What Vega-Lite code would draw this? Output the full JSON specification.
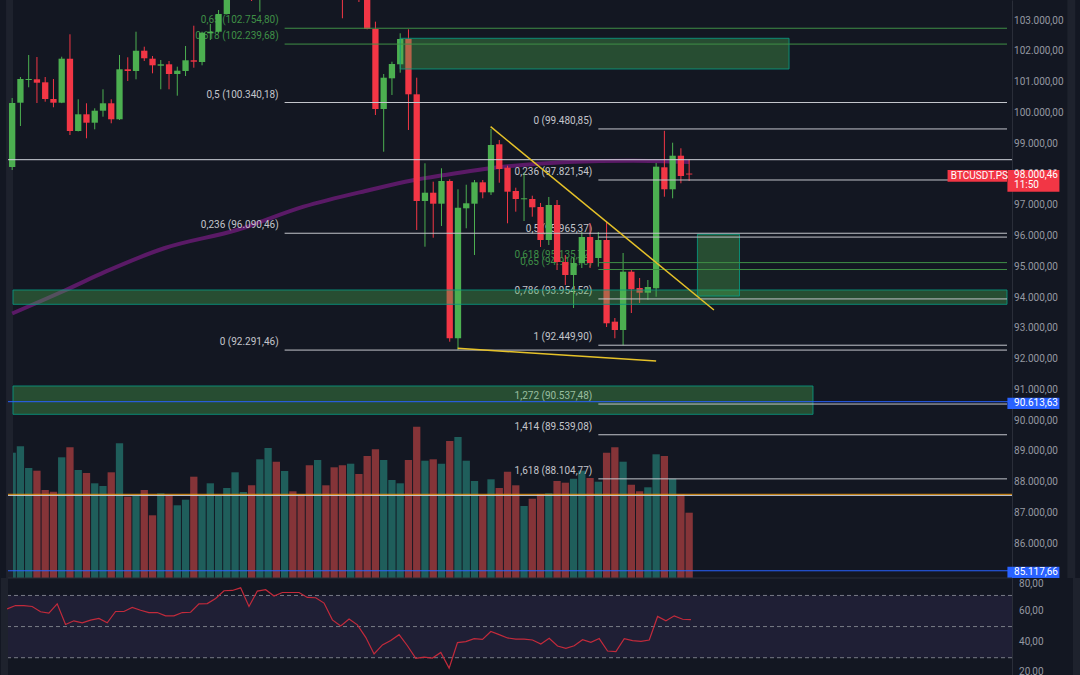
{
"$schema": "https://vega.github.io/schema/vega-lite/v6.json",
"background": "#131722",
"padding": 0,
"bounds": "flush",
"spacing": 0,
"config": {
 "locale": {"number": {"decimal": ",", "thousands": ".", "grouping": [3], "currency": ["", ""]}},
 "view": {"stroke": null, "fill": "#131722"},
 "axis": {"grid": false, "ticks": false, "domain": true, "domainColor": "#2a2e39", "labels": false, "title": null},
 "text": {"font": "Roboto", "fontSize": 10}
},
"datasets": {
 "bars": [
  {"i":0,"o":98244,"h":100487,"l":98146,"c":100324,"v":6265,"r":61.4},
  {"i":1,"o":100334,"h":101170,"l":99577,"c":101105,"v":6585,"r":63.5},
  {"i":2,"o":101072,"h":101885,"l":100835,"c":101105,"v":5500,"r":63.5},
  {"i":3,"o":101095,"h":101820,"l":100324,"c":100984,"v":5365,"r":62.9},
  {"i":4,"o":100997,"h":101170,"l":100367,"c":100455,"v":4400,"r":59.5},
  {"i":5,"o":100455,"h":101105,"l":100185,"c":100334,"v":4315,"r":58.6},
  {"i":6,"o":100334,"h":101830,"l":100320,"c":101765,"v":6035,"r":64.6},
  {"i":7,"o":101765,"h":102558,"l":99284,"c":99414,"v":6535,"r":51.3},
  {"i":8,"o":99414,"h":100445,"l":99400,"c":99957,"v":5400,"r":53.7},
  {"i":9,"o":99957,"h":100315,"l":99177,"c":99684,"v":5250,"r":52.4},
  {"i":10,"o":99684,"h":100152,"l":99469,"c":100074,"v":4735,"r":54.1},
  {"i":11,"o":100074,"h":100770,"l":99879,"c":100315,"v":4600,"r":55.2},
  {"i":12,"o":100315,"h":100445,"l":99665,"c":99795,"v":5285,"r":52.4},
  {"i":13,"o":99795,"h":101885,"l":99772,"c":101420,"v":6735,"r":59.7},
  {"i":14,"o":101420,"h":101810,"l":101040,"c":101365,"v":4065,"r":59.7},
  {"i":15,"o":101365,"h":102642,"l":101095,"c":102025,"v":4100,"r":62.3},
  {"i":16,"o":102025,"h":102155,"l":101690,"c":101778,"v":4400,"r":60.5},
  {"i":17,"o":101765,"h":101852,"l":101290,"c":101550,"v":3135,"r":59.0},
  {"i":18,"o":101537,"h":101722,"l":100770,"c":101583,"v":4235,"r":59.0},
  {"i":19,"o":101583,"h":101690,"l":100770,"c":101267,"v":4135,"r":56.9},
  {"i":20,"o":101267,"h":101505,"l":100562,"c":101375,"v":3635,"r":56.9},
  {"i":21,"o":101365,"h":102178,"l":101202,"c":101713,"v":3915,"r":59.0},
  {"i":22,"o":101713,"h":102837,"l":101472,"c":101667,"v":5065,"r":59.2},
  {"i":23,"o":101657,"h":102642,"l":101550,"c":102610,"v":4100,"r":64.6},
  {"i":24,"o":102590,"h":102893,"l":102373,"c":102642,"v":4735,"r":64.8},
  {"i":25,"o":102642,"h":103348,"l":102610,"c":103218,"v":4100,"r":68.1},
  {"i":26,"o":103218,"h":103933,"l":103200,"c":103836,"v":4500,"r":73.0},
  {"i":27,"o":103836,"h":104650,"l":103700,"c":104400,"v":5285,"r":73.2},
  {"i":28,"o":104400,"h":105200,"l":104100,"c":104900,"v":4300,"r":74.9},
  {"i":29,"o":104900,"h":105100,"l":103640,"c":104000,"v":4635,"r":62.9},
  {"i":30,"o":104000,"h":105600,"l":103293,"c":105300,"v":5935,"r":72.8},
  {"i":31,"o":105300,"h":106900,"l":105000,"c":106600,"v":6500,"r":73.7},
  {"i":32,"o":106600,"h":107100,"l":105700,"c":106000,"v":5815,"r":69.6},
  {"i":33,"o":106000,"h":107700,"l":105800,"c":107300,"v":5350,"r":71.9},
  {"i":34,"o":107300,"h":108389,"l":106500,"c":106900,"v":4335,"r":71.9},
  {"i":35,"o":106900,"h":107400,"l":105900,"c":106200,"v":4200,"r":71.9},
  {"i":36,"o":106200,"h":106500,"l":104900,"c":105300,"v":5635,"r":68.7},
  {"i":37,"o":105300,"h":106300,"l":105000,"c":105900,"v":5900,"r":68.5},
  {"i":38,"o":105900,"h":106100,"l":104700,"c":105200,"v":4635,"r":65.1},
  {"i":39,"o":105200,"h":105500,"l":104100,"c":104500,"v":5535,"r":54.3},
  {"i":40,"o":104500,"h":104900,"l":103078,"c":104000,"v":5635,"r":50.4},
  {"i":41,"o":104000,"h":104900,"l":103800,"c":104600,"v":5715,"r":54.9},
  {"i":42,"o":104600,"h":104800,"l":103608,"c":103900,"v":5200,"r":51.1},
  {"i":43,"o":103900,"h":104200,"l":102720,"c":102730,"v":6100,"r":43.1},
  {"i":44,"o":102730,"h":102968,"l":99934,"c":100129,"v":6435,"r":32.4},
  {"i":45,"o":100129,"h":101267,"l":98741,"c":101147,"v":5900,"r":38.2},
  {"i":46,"o":101127,"h":101667,"l":100585,"c":101592,"v":4900,"r":41.0},
  {"i":47,"o":101583,"h":102590,"l":101310,"c":102405,"v":4735,"r":44.8},
  {"i":48,"o":102405,"h":102720,"l":99447,"c":100607,"v":5900,"r":37.7},
  {"i":49,"o":100607,"h":101147,"l":96196,"c":97138,"v":7565,"r":29.6},
  {"i":50,"o":97138,"h":98364,"l":95653,"c":97408,"v":5865,"r":30.4},
  {"i":51,"o":97408,"h":97766,"l":95945,"c":97051,"v":5935,"r":29.8},
  {"i":52,"o":97051,"h":98202,"l":96326,"c":97789,"v":5715,"r":33.4},
  {"i":53,"o":97789,"h":97844,"l":92564,"c":92675,"v":6850,"r":23.3},
  {"i":54,"o":92675,"h":97519,"l":92291,"c":96921,"v":7050,"r":39.7},
  {"i":55,"o":96901,"h":97668,"l":96251,"c":97064,"v":5865,"r":40.3},
  {"i":56,"o":97051,"h":97821,"l":95383,"c":97746,"v":4850,"r":42.3},
  {"i":57,"o":97746,"h":97821,"l":97226,"c":97421,"v":4150,"r":41.8},
  {"i":58,"o":97421,"h":99481,"l":97334,"c":98959,"v":4935,"r":46.8},
  {"i":59,"o":98982,"h":99122,"l":97733,"c":98179,"v":4500,"r":44.8},
  {"i":60,"o":98221,"h":98286,"l":96414,"c":97441,"v":5315,"r":42.7},
  {"i":61,"o":97464,"h":97571,"l":96791,"c":97204,"v":4635,"r":42.0},
  {"i":62,"o":97194,"h":98058,"l":96488,"c":97226,"v":3600,"r":42.0},
  {"i":63,"o":97204,"h":97311,"l":96628,"c":96934,"v":3965,"r":41.4},
  {"i":64,"o":96943,"h":97074,"l":95643,"c":95871,"v":4200,"r":38.8},
  {"i":65,"o":95871,"h":97269,"l":95708,"c":97008,"v":4235,"r":42.5},
  {"i":66,"o":97008,"h":97171,"l":94895,"c":95155,"v":4850,"r":37.5},
  {"i":67,"o":95155,"h":95383,"l":94408,"c":94733,"v":4765,"r":36.0},
  {"i":68,"o":94733,"h":95285,"l":93660,"c":95123,"v":4965,"r":37.7},
  {"i":69,"o":95123,"h":96131,"l":94960,"c":95968,"v":5365,"r":41.6},
  {"i":70,"o":95968,"h":96414,"l":94960,"c":95123,"v":5000,"r":39.9},
  {"i":71,"o":95285,"h":96131,"l":95003,"c":95871,"v":4815,"r":42.3},
  {"i":72,"o":95871,"h":96465,"l":93042,"c":93163,"v":6265,"r":34.3},
  {"i":73,"o":93215,"h":93335,"l":92675,"c":92945,"v":6535,"r":33.9},
  {"i":74,"o":92945,"h":95448,"l":92450,"c":94840,"v":5815,"r":42.3},
  {"i":75,"o":94840,"h":94895,"l":93497,"c":94268,"v":4665,"r":41.0},
  {"i":76,"o":94310,"h":94635,"l":93822,"c":94157,"v":4335,"r":40.5},
  {"i":77,"o":94157,"h":94570,"l":93920,"c":94343,"v":4535,"r":41.4},
  {"i":78,"o":94300,"h":98374,"l":94027,"c":98254,"v":6185,"r":56.5},
  {"i":79,"o":98234,"h":99420,"l":97278,"c":97519,"v":6100,"r":53.7},
  {"i":80,"o":97519,"h":99034,"l":97226,"c":98611,"v":4965,"r":56.9},
  {"i":81,"o":98611,"h":98852,"l":97714,"c":97951,"v":4185,"r":54.7},
  {"i":82,"o":98030,"h":98494,"l":97789,"c":98000.46,"v":3265,"r":54.5}
 ],
 "ma": [
  {"i":0,"m":93481},{"i":6.5,"m":94245},{"i":11.3,"m":94840},{"i":18.5,"m":95610},
  {"i":27.2,"m":96196},{"i":35.3,"m":96953},{"i":43.3,"m":97496},{"i":48.4,"m":97805},
  {"i":52.4,"m":97984},{"i":59.2,"m":98244},{"i":67.3,"m":98406},{"i":75.2,"m":98449},{"i":82,"m":98406}
 ],
 "fib": [
  {"s":33,"p":102754.80,"k":"g","t":"0,65 (102.754,80)"},
  {"s":33,"p":102239.68,"k":"g","t":"0,618 (102.239,68)"},
  {"s":33,"p":100340.18,"k":"w","t":"0,5 (100.340,18)"},
  {"s":33,"p":96090.46,"k":"w","t":"0,236 (96.090,46)"},
  {"s":33,"p":92291.46,"k":"w","t":"0 (92.291,46)"},
  {"s":71,"p":99480.85,"k":"w","t":"0 (99.480,85)"},
  {"s":71,"p":97821.54,"k":"w","t":"0,236 (97.821,54)"},
  {"s":71,"p":95965.37,"k":"w","t":"0,5 (95.965,37)"},
  {"s":71,"p":95135.72,"k":"g","t":"0,618 (95.135,72)"},
  {"s":71,"p":94910.73,"k":"g","t":"0,65 (94.910,73)"},
  {"s":71,"p":93954.52,"k":"w","t":"0,786 (93.954,52)"},
  {"s":71,"p":92449.90,"k":"w","t":"1 (92.449,90)"},
  {"s":71,"p":90537.48,"k":"w","t":"1,272 (90.537,48)"},
  {"s":71,"p":89539.08,"k":"w","t":"1,414 (89.539,08)"},
  {"s":71,"p":88104.77,"k":"w","t":"1,618 (88.104,77)"}
 ],
 "hl": [
  {"p":98481,"k":"h"},{"p":90613.63,"k":"b"},{"p":87568,"k":"h"},{"p":87603,"k":"o"},{"p":85117.66,"k":"b"}
 ],
 "zones": [
  {"a":47.0,"b":94.1,"p1":102428,"p2":101430},
  {"a":0.1,"b":120.5,"p1":94245,"p2":93780},
  {"a":83.0,"b":88.1,"p1":96056,"p2":94050},
  {"a":0.1,"b":97.0,"p1":91124,"p2":90204}
 ],
 "trend": [
  {"g":"u","i":57.95,"p":99554},{"g":"u","i":85.0,"p":93595},
  {"g":"d","i":53.96,"p":92350},{"g":"d","i":78.0,"p":91937}
 ],
 "tags": [
  {"a":120.55,"b":126.85,"p1":98146,"p2":97441,"k":"r"},
  {"a":113.3,"b":120.5,"p1":98146,"p2":97766,"k":"r"},
  {"a":120.55,"b":126.85,"p1":90744,"p2":90376,"k":"b"},
  {"a":120.55,"b":126.85,"p1":85250,"p2":84883,"k":"b"}
 ],
 "tagt": [
  {"x":121.35,"p":97968,"t":"98.000,46"},
  {"x":121.35,"p":97659,"t":"11:50"},
  {"x":113.7,"p":97951,"t":"BTCUSDT.PS"},
  {"x":121.35,"p":90562,"t":"90.613,63"},
  {"x":121.35,"p":85068,"t":"85.117,66"}
 ],
 "pt": [
  {"p":86000},{"p":87000},{"p":88000},{"p":89000},{"p":90000},{"p":91000},{"p":92000},{"p":93000},{"p":94000},
  {"p":95000},{"p":96000},{"p":97000},{"p":98000},{"p":99000},{"p":100000},{"p":101000},{"p":102000},{"p":103000}
 ]
},
"vconcat": [
 {
  "width": 1004, "height": 578,
  "resolve": {"scale": {"y": "independent"}},
  "layer": [
   {
    "data": {"name": "bars"},
    "mark": {"type": "bar", "size": 7.3, "clip": true},
    "encoding": {
     "x": {"field": "i", "type": "quantitative", "scale": {"domain": [0.1, 120.5], "nice": false, "zero": false}, "axis": null},
     "y": {"field": "v", "type": "quantitative", "scale": {"domain": [0, 28900], "nice": false}, "axis": null},
     "y2": {"datum": 0},
     "color": {"condition": {"test": "datum.c >= datum.o", "value": "#1f5e5b"}, "value": "#853438"}
    }
   },
   {
    "layer": [
     {
      "data": {"values": [{}]},
      "mark": {"type": "rect", "color": "#1e222d"},
      "encoding": {
       "x": {"datum": -0.74, "type": "quantitative", "scale": {"domain": [0.1, 120.5], "nice": false, "zero": false}, "axis": null},
       "x2": {"datum": 0.1},
       "y": {"datum": 103673, "type": "quantitative", "scale": {"domain": [84882, 103673], "nice": false, "zero": false}, "axis": {"orient": "right", "labels": false, "title": null}},
       "y2": {"datum": 84882}
      }
     },
     {
      "data": {"values": [{}]},
      "mark": {"type": "rect", "color": "#1e222d"},
      "encoding": {
       "x": {"datum": 127.81, "type": "quantitative", "scale": {"domain": [0.1, 120.5], "nice": false, "zero": false}, "axis": null},
       "x2": {"datum": 128.77},
       "y": {"datum": 103673, "type": "quantitative", "scale": {"domain": [84882, 103673], "nice": false, "zero": false}},
       "y2": {"datum": 84882}
      }
     },
     {
      "data": {"name": "ma"},
      "mark": {"type": "line", "color": "#5a1a66", "strokeWidth": 4, "interpolate": "monotone", "clip": true},
      "encoding": {
       "x": {"field": "i", "type": "quantitative", "scale": {"domain": [0.1, 120.5], "nice": false, "zero": false}, "axis": null},
       "y": {"field": "m", "type": "quantitative", "scale": {"domain": [84882, 103673], "nice": false, "zero": false}, "title": null}
      }
     },
     {
      "data": {"name": "fib"},
      "mark": {"type": "text", "align": "right", "baseline": "alphabetic", "dx": -6, "dy": -5, "fontSize": 10},
      "encoding": {
       "x": {"field": "s", "type": "quantitative", "scale": {"domain": [0.1, 120.5], "nice": false, "zero": false}, "axis": null},
       "y": {"field": "p", "type": "quantitative", "scale": {"domain": [84882, 103673], "nice": false, "zero": false}, "title": null},
       "text": {"field": "t"},
       "color": {"field": "k", "type": "nominal", "scale": {"domain": ["w","g","h","o","b","r"], "range": ["#c3c5cb","#3f8f46","#d1d4dc","#e8950f","#2962ff","#f23645"]}, "legend": null}
      }
     },
     {
      "data": {"name": "bars"},
      "mark": {"type": "rule", "strokeWidth": 1, "clip": true},
      "encoding": {
       "x": {"field": "i", "type": "quantitative", "scale": {"domain": [0.1, 120.5], "nice": false, "zero": false}, "axis": null},
       "y": {"field": "l", "type": "quantitative", "scale": {"domain": [84882, 103673], "nice": false, "zero": false}, "title": null},
       "y2": {"field": "h"},
       "color": {"condition": {"test": "datum.c >= datum.o", "value": "#4caf50"}, "value": "#f23645"}
      }
     },
     {
      "data": {"name": "bars"},
      "mark": {"type": "bar", "size": 6.3, "clip": true},
      "encoding": {
       "x": {"field": "i", "type": "quantitative", "scale": {"domain": [0.1, 120.5], "nice": false, "zero": false}, "axis": null},
       "y": {"field": "o", "type": "quantitative", "scale": {"domain": [84882, 103673], "nice": false, "zero": false}, "title": null},
       "y2": {"field": "c"},
       "color": {"condition": {"test": "datum.c >= datum.o", "value": "#4caf50"}, "value": "#f23645"}
      }
     },
     {
      "data": {"name": "zones"},
      "mark": {"type": "rect", "fill": "#4caf50", "fillOpacity": 0.36, "stroke": "#089981", "strokeOpacity": 0.85, "strokeWidth": 1, "clip": true},
      "encoding": {
       "x": {"field": "a", "type": "quantitative", "scale": {"domain": [0.1, 120.5], "nice": false, "zero": false}, "axis": null},
       "x2": {"field": "b"},
       "y": {"field": "p1", "type": "quantitative", "scale": {"domain": [84882, 103673], "nice": false, "zero": false}, "title": null},
       "y2": {"field": "p2"}
      }
     },
     {
      "data": {"name": "hl"},
      "mark": {"type": "rule", "strokeWidth": 1},
      "encoding": {
       "y": {"field": "p", "type": "quantitative", "scale": {"domain": [84882, 103673], "nice": false, "zero": false}, "title": null},
       "color": {"field": "k", "type": "nominal", "scale": {"domain": ["w","g","h","o","b","r"], "range": ["#c3c5cb","#3f8f46","#d1d4dc","#e8950f","#2962ff","#f23645"]}, "legend": null}
      }
     },
     {
      "data": {"name": "fib"},
      "mark": {"type": "rule", "strokeWidth": 1},
      "encoding": {
       "x": {"field": "s", "type": "quantitative", "scale": {"domain": [0.1, 120.5], "nice": false, "zero": false}, "axis": null},
       "x2": {"datum": 120.5},
       "y": {"field": "p", "type": "quantitative", "scale": {"domain": [84882, 103673], "nice": false, "zero": false}, "title": null},
       "color": {"field": "k", "type": "nominal", "scale": {"domain": ["w","g","h","o","b","r"], "range": ["#c3c5cb","#3f8f46","#d1d4dc","#e8950f","#2962ff","#f23645"]}, "legend": null}
      }
     },
     {
      "data": {"name": "trend"},
      "mark": {"type": "line", "color": "#e6c229", "strokeWidth": 1.5},
      "encoding": {
       "x": {"field": "i", "type": "quantitative", "scale": {"domain": [0.1, 120.5], "nice": false, "zero": false}, "axis": null},
       "y": {"field": "p", "type": "quantitative", "scale": {"domain": [84882, 103673], "nice": false, "zero": false}, "title": null},
       "detail": {"field": "g"}
      }
     },
     {
      "data": {"name": "pt"},
      "mark": {"type": "text", "align": "left", "baseline": "middle", "color": "#9598a1", "fontSize": 10},
      "encoding": {
       "x": {"datum": 121.35, "type": "quantitative", "scale": {"domain": [0.1, 120.5], "nice": false, "zero": false}, "axis": null},
       "y": {"field": "p", "type": "quantitative", "scale": {"domain": [84882, 103673], "nice": false, "zero": false}, "title": null},
       "text": {"field": "p", "type": "quantitative", "format": ",.2f"}
      }
     },
     {
      "data": {"name": "tags"},
      "mark": {"type": "rect"},
      "encoding": {
       "x": {"field": "a", "type": "quantitative", "scale": {"domain": [0.1, 120.5], "nice": false, "zero": false}, "axis": null},
       "x2": {"field": "b"},
       "y": {"field": "p1", "type": "quantitative", "scale": {"domain": [84882, 103673], "nice": false, "zero": false}, "title": null},
       "y2": {"field": "p2"},
       "color": {"field": "k", "type": "nominal", "scale": {"domain": ["w","g","h","o","b","r"], "range": ["#c3c5cb","#3f8f46","#d1d4dc","#e8950f","#2962ff","#f23645"]}, "legend": null}
      }
     },
     {
      "data": {"name": "tagt"},
      "mark": {"type": "text", "align": "left", "baseline": "middle", "color": "#ffffff", "fontSize": 10},
      "encoding": {
       "x": {"field": "x", "type": "quantitative", "scale": {"domain": [0.1, 120.5], "nice": false, "zero": false}, "axis": null},
       "y": {"field": "p", "type": "quantitative", "scale": {"domain": [84882, 103673], "nice": false, "zero": false}, "title": null},
       "text": {"field": "t"}
      }
     }
    ]
   }
  ]
 },
 {
  "width": 1004, "height": 97,
  "layer": [
   {
    "data": {"values": [{}]},
    "mark": {"type": "rect", "color": "#1e222d"},
    "encoding": {
     "x": {"datum": -0.74, "type": "quantitative", "scale": {"domain": [0.1, 120.5], "nice": false, "zero": false}, "axis": null},
     "x2": {"datum": 0.1},
     "y": {"datum": 81.2, "type": "quantitative", "scale": {"domain": [18.9, 81.2], "nice": false, "zero": false}, "axis": {"orient": "right", "labels": false, "title": null}},
     "y2": {"datum": 18.9}
    }
   },
   {
    "data": {"values": [{}]},
    "mark": {"type": "rect", "color": "#1e222d"},
    "encoding": {
     "x": {"datum": 127.81, "type": "quantitative", "scale": {"domain": [0.1, 120.5], "nice": false, "zero": false}, "axis": null},
     "x2": {"datum": 128.77},
     "y": {"datum": 81.2, "type": "quantitative", "scale": {"domain": [18.9, 81.2], "nice": false, "zero": false}},
     "y2": {"datum": 18.9}
    }
   },
   {
    "data": {"values": [{}]},
    "mark": {"type": "rect", "color": "#7e57c2", "opacity": 0.12},
    "encoding": {
     "x": {"datum": 0.1, "type": "quantitative", "scale": {"domain": [0.1, 120.5], "nice": false, "zero": false}, "axis": null},
     "x2": {"datum": 120.5},
     "y": {"datum": 70, "type": "quantitative", "scale": {"domain": [18.9, 81.2], "nice": false, "zero": false}},
     "y2": {"datum": 30}
    }
   },
   {
    "data": {"values": [{"lv": 70}, {"lv": 50}, {"lv": 30}]},
    "mark": {"type": "rule", "color": "#787b86", "strokeDash": [4, 3], "strokeWidth": 1},
    "encoding": {
     "y": {"field": "lv", "type": "quantitative", "scale": {"domain": [18.9, 81.2], "nice": false, "zero": false}, "title": null}
    }
   },
   {
    "data": {"values": [{"lv": 81.2}]},
    "mark": {"type": "rule", "color": "#2a2e39", "strokeWidth": 1},
    "encoding": {
     "y": {"field": "lv", "type": "quantitative", "scale": {"domain": [18.9, 81.2], "nice": false, "zero": false}, "title": null}
    }
   },
   {
    "data": {"name": "bars"},
    "mark": {"type": "line", "color": "#c22a3b", "strokeWidth": 1.2},
    "encoding": {
     "x": {"field": "i", "type": "quantitative", "scale": {"domain": [0.1, 120.5], "nice": false, "zero": false}, "axis": null},
     "y": {"field": "r", "type": "quantitative", "scale": {"domain": [18.9, 81.2], "nice": false, "zero": false}, "title": null}
    }
   },
   {
    "data": {"values": [{"lv": 40}, {"lv": 60}]},
    "mark": {"type": "text", "align": "left", "baseline": "middle", "color": "#9598a1", "fontSize": 10},
    "encoding": {
     "x": {"datum": 121.35, "type": "quantitative", "scale": {"domain": [0.1, 120.5], "nice": false, "zero": false}, "axis": null},
     "y": {"field": "lv", "type": "quantitative", "scale": {"domain": [18.9, 81.2], "nice": false, "zero": false}, "title": null},
     "text": {"field": "lv", "type": "quantitative", "format": ",.2f"}
    }
   },
   {
    "data": {"values": [{"lv": 80}]},
    "mark": {"type": "text", "align": "left", "baseline": "top", "dy": -1, "color": "#9598a1", "fontSize": 10},
    "encoding": {
     "x": {"datum": 121.35, "type": "quantitative", "scale": {"domain": [0.1, 120.5], "nice": false, "zero": false}, "axis": null},
     "y": {"field": "lv", "type": "quantitative", "scale": {"domain": [18.9, 81.2], "nice": false, "zero": false}, "title": null},
     "text": {"field": "lv", "type": "quantitative", "format": ",.2f"}
    }
   },
   {
    "data": {"values": [{"lv": 20}]},
    "mark": {"type": "text", "align": "left", "baseline": "alphabetic", "dy": 2, "color": "#9598a1", "fontSize": 10},
    "encoding": {
     "x": {"datum": 121.35, "type": "quantitative", "scale": {"domain": [0.1, 120.5], "nice": false, "zero": false}, "axis": null},
     "y": {"field": "lv", "type": "quantitative", "scale": {"domain": [18.9, 81.2], "nice": false, "zero": false}, "title": null},
     "text": {"field": "lv", "type": "quantitative", "format": ",.2f"}
    }
   }
  ]
 }
]
}
